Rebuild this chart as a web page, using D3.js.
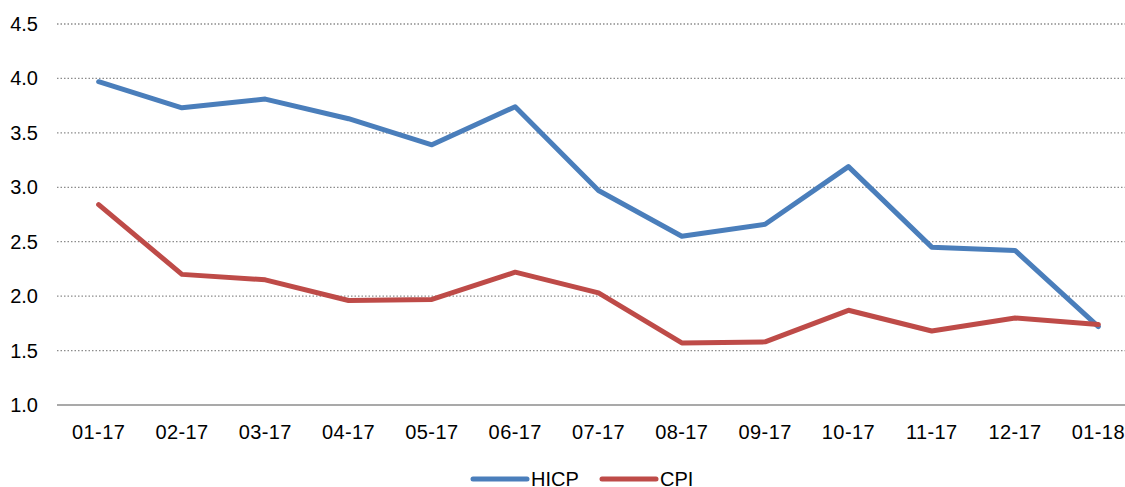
<!DOCTYPE html>
<html>
<head>
<meta charset="utf-8">
<script src="https://cdn.jsdelivr.net/npm/d3@7"></script>
<style>
  body { margin: 0; background: #fff; }
  svg text { font-family: "Liberation Sans", Arial, sans-serif; fill: #000; }
</style>
</head>
<body>
<svg id="chart" width="1125" height="487"></svg>
<script>
const months = ['01-17', '02-17', '03-17', '04-17', '05-17', '06-17', '07-17',
  '08-17', '09-17', '10-17', '11-17', '12-17', '01-18'];
const hicp = [3.97, 3.73, 3.81, 3.63, 3.39, 3.74, 2.97, 2.55, 2.66, 3.19, 2.45, 2.42, 1.72];
const cpi = [2.84, 2.20, 2.15, 1.96, 1.97, 2.22, 2.03, 1.57, 1.58, 1.87, 1.68, 1.80, 1.74];
const yTicks = [1.0, 1.5, 2.0, 2.5, 3.0, 3.5, 4.0, 4.5];

const series = [
  { name: 'HICP', values: hicp, color: '#4a7ebb' },
  { name: 'CPI', values: cpi, color: '#be4b48' }
];

const svg = d3.select('#chart');

const x = d3.scaleBand().domain(months).range([57, 1140]);
const y = d3.scaleLinear().domain([1, 4.5]).range([405, 24]);

// gridlines
svg.append('g')
  .selectAll('line')
  .data(yTicks.filter(d => d > 1))
  .join('line')
  .attr('x1', 57).attr('x2', 1140)
  .attr('y1', d => y(d)).attr('y2', d => y(d))
  .attr('stroke', '#8c8c8c')
  .attr('stroke-width', 1.3)
  .attr('stroke-dasharray', '1.5 2');

// baseline
svg.append('line')
  .attr('x1', 57).attr('x2', 1140)
  .attr('y1', y(1)).attr('y2', y(1))
  .attr('stroke', '#8c8c8c')
  .attr('stroke-width', 1.5);

// y labels
svg.append('g')
  .selectAll('text')
  .data(yTicks)
  .join('text')
  .attr('x', 38)
  .attr('y', d => y(d) + 7)
  .attr('text-anchor', 'end')
  .attr('font-size', 20)
  .text(d => d.toFixed(1));

// x labels
svg.append('g')
  .selectAll('text')
  .data(months)
  .join('text')
  .attr('x', d => x(d) + x.bandwidth() / 2)
  .attr('y', 439)
  .attr('text-anchor', 'middle')
  .attr('font-size', 20)
  .attr('letter-spacing', 0.4)
  .text(d => d);

const line = d3.line()
  .x((d, i) => x(months[i]) + x.bandwidth() / 2)
  .y(d => y(d));

svg.append('g')
  .selectAll('path')
  .data(series)
  .join('path')
  .attr('d', d => line(d.values))
  .attr('fill', 'none')
  .attr('stroke', d => d.color)
  .attr('stroke-width', 5)
  .attr('stroke-linejoin', 'round')
  .attr('stroke-linecap', 'round');

// legend
const legendPos = [473, 602];
const legend = svg.append('g')
  .selectAll('g')
  .data(series)
  .join('g')
  .attr('transform', (d, i) => `translate(${legendPos[i]},479)`);

legend.append('line')
  .attr('x1', 0).attr('x2', 54)
  .attr('stroke', d => d.color)
  .attr('stroke-width', 5)
  .attr('stroke-linecap', 'round');

legend.append('text')
  .attr('x', 58)
  .attr('y', 7)
  .attr('font-size', 20)
  .text(d => d.name);
</script>
</body>
</html>
